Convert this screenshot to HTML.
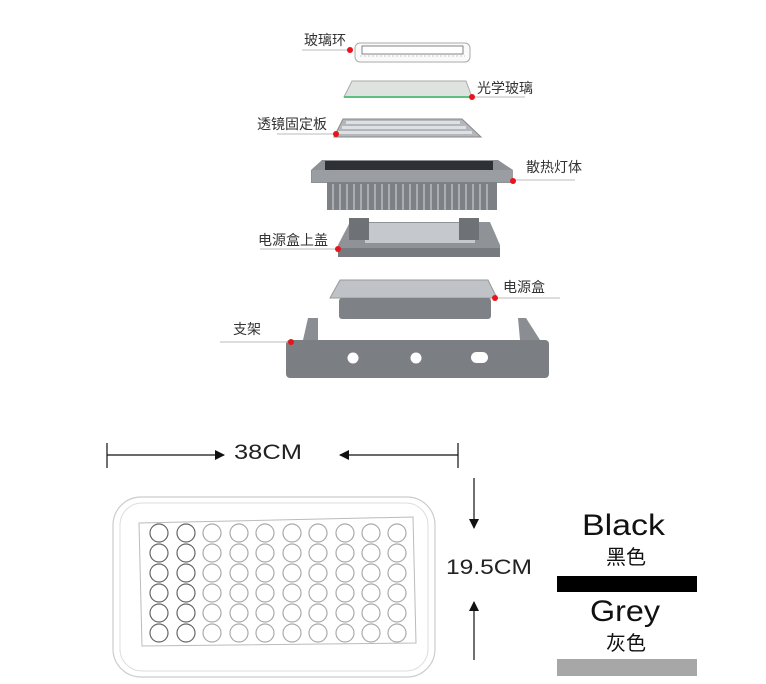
<!DOCTYPE html>
<html><head><meta charset="utf-8"><style>
html,body{margin:0;padding:0;background:#fff;}
svg{display:block;}
text{font-family:"Liberation Sans","Noto Sans CJK SC",sans-serif;}
</style></head><body>
<svg width="766" height="684" viewBox="0 0 766 684" xmlns="http://www.w3.org/2000/svg">
<defs>
<marker id="ah" markerWidth="10" markerHeight="10" refX="9" refY="5" orient="auto" markerUnits="userSpaceOnUse"><path d="M0,0 L10,5 L0,10 z" fill="#111"/></marker>
</defs>
<!-- glass ring -->
<rect x="355" y="43" width="115" height="19" rx="5" fill="#fafafa" stroke="#aaa" stroke-width="1"/>
<rect x="362" y="46" width="101" height="8" fill="#fff" stroke="#666" stroke-width="0.8"/>
<line x1="360" y1="56" x2="465" y2="56" stroke="#ccc" stroke-dasharray="2,2"/>
<!-- glass -->
<path d="M352,81 L466,81 L472,97 L344,97 Z" fill="#dfe3e0" stroke="#aaa"/>
<line x1="344" y1="97" x2="472" y2="97" stroke="#5fbf7f" stroke-width="2"/>
<!-- lens plate -->
<path d="M343,119 L462,119 L481,137 L334,137 Z" fill="#b3b7bc" stroke="#888"/>
<g fill="#e9ecef" opacity=".8">
<rect x="346" y="121" width="114" height="3"/>
<rect x="342" y="126" width="124" height="3"/>
<rect x="338" y="131" width="134" height="3"/>
</g>
<!-- heat sink -->
<path d="M322,160 L498,160 L513,170 L513,183 L311,183 L311,170 Z" fill="#8d9196"/>
<rect x="325" y="161" width="168" height="12" fill="#2e3033"/>
<rect x="312" y="170" width="201" height="12" fill="#9a9ea3"/>
<rect x="327" y="182" width="170" height="28" fill="#7d8186"/>
<g stroke="#c9ccd0" stroke-width="1.2">
<line x1="333" y1="184" x2="333" y2="210"/><line x1="340" y1="184" x2="340" y2="210"/><line x1="347" y1="184" x2="347" y2="210"/><line x1="354" y1="184" x2="354" y2="210"/><line x1="361" y1="184" x2="361" y2="210"/><line x1="368" y1="184" x2="368" y2="210"/><line x1="375" y1="184" x2="375" y2="210"/><line x1="382" y1="184" x2="382" y2="210"/><line x1="389" y1="184" x2="389" y2="210"/><line x1="396" y1="184" x2="396" y2="210"/><line x1="403" y1="184" x2="403" y2="210"/><line x1="410" y1="184" x2="410" y2="210"/><line x1="417" y1="184" x2="417" y2="210"/><line x1="424" y1="184" x2="424" y2="210"/><line x1="431" y1="184" x2="431" y2="210"/><line x1="438" y1="184" x2="438" y2="210"/><line x1="445" y1="184" x2="445" y2="210"/><line x1="452" y1="184" x2="452" y2="210"/><line x1="459" y1="184" x2="459" y2="210"/><line x1="466" y1="184" x2="466" y2="210"/><line x1="473" y1="184" x2="473" y2="210"/><line x1="480" y1="184" x2="480" y2="210"/><line x1="487" y1="184" x2="487" y2="210"/>
</g>
<!-- power box lid -->
<path d="M350,222 L490,222 L500,245 L500,257 L338,257 L338,245 Z" fill="#8f9398"/>
<rect x="365" y="223" width="110" height="20" fill="#c5c8cc"/>
<rect x="349" y="218" width="20" height="22" fill="#6e7277"/>
<rect x="459" y="218" width="20" height="22" fill="#6e7277"/>
<rect x="338" y="248" width="162" height="9" fill="#777b80"/>
<!-- power box -->
<path d="M340,280 L488,280 L497,298 L330,298 Z" fill="#bfc2c6" stroke="#999"/>
<rect x="339" y="298" width="152" height="21" rx="3" fill="#7e8287"/>
<!-- bracket -->
<path d="M308,318 L318,318 L318,340 L303,340 Z" fill="#8a8e93"/>
<path d="M518,318 L526,318 L540,340 L520,340 Z" fill="#8a8e93"/>
<rect x="286" y="340" width="263" height="38" rx="4" fill="#7b7f84"/>
<circle cx="353" cy="358" r="5.5" fill="#fff"/>
<circle cx="416" cy="358" r="5.5" fill="#fff"/>
<rect x="471" y="352" width="17" height="11" rx="5.5" fill="#fff"/>
<!-- leader lines -->
<g stroke="#bbb" stroke-width="1">
<line x1="302" y1="50" x2="352" y2="50"/>
<line x1="472" y1="97" x2="525" y2="97"/>
<line x1="277" y1="134" x2="336" y2="134"/>
<line x1="513" y1="180" x2="575" y2="180"/>
<line x1="260" y1="249" x2="338" y2="249"/>
<line x1="497" y1="298" x2="560" y2="298"/>
<line x1="220" y1="342" x2="290" y2="342"/>
</g>
<g fill="#e8131b">
<circle cx="350" cy="50" r="3"/><circle cx="472" cy="97" r="3"/><circle cx="336" cy="134" r="3"/><circle cx="513" cy="181" r="3"/><circle cx="338" cy="249" r="3"/><circle cx="495" cy="298" r="3"/><circle cx="291" cy="342" r="3"/>
</g>
<g font-size="14" fill="#333">
<text x="304" y="45">玻璃环</text>
<text x="477" y="93">光学玻璃</text>
<text x="257" y="129">透镜固定板</text>
<text x="526" y="172">散热灯体</text>
<text x="258" y="245">电源盒上盖</text>
<text x="503" y="292">电源盒</text>
<text x="233" y="334">支架</text>
</g>
<!-- dimensions -->
<g stroke="#111" stroke-width="1.2">
<line x1="107" y1="443" x2="107" y2="468"/>
<line x1="458" y1="443" x2="458" y2="468"/>
<line x1="107" y1="455" x2="224" y2="455" marker-end="url(#ah)"/>
<line x1="458" y1="455" x2="340" y2="455" marker-end="url(#ah)"/>
<line x1="474" y1="478" x2="474" y2="528" marker-end="url(#ah)"/>
<line x1="474" y1="660" x2="474" y2="602" marker-end="url(#ah)"/>
</g>
<text x="234" y="459" font-size="21" fill="#222" textLength="68" lengthAdjust="spacingAndGlyphs">38CM</text>
<text x="446" y="574" font-size="21" fill="#222" textLength="86" lengthAdjust="spacingAndGlyphs">19.5CM</text>
<!-- top view -->
<rect x="113" y="497" width="322" height="180" rx="28" fill="#fff" stroke="#ccc" stroke-width="1.2"/>
<rect x="120" y="503" width="308" height="168" rx="22" fill="none" stroke="#ddd"/>
<path d="M139,523 L413,517 L416,643 L142,646 Z" fill="none" stroke="#bbb"/>
<g fill="none" stroke-width="1.2">
<g stroke="#666">
<circle cx="159" cy="533" r="9"/><circle cx="159" cy="553" r="9"/><circle cx="159" cy="573" r="9"/><circle cx="159" cy="593" r="9"/><circle cx="159" cy="613" r="9"/><circle cx="159" cy="633" r="9"/>
<circle cx="186" cy="533" r="9"/><circle cx="186" cy="553" r="9"/><circle cx="186" cy="573" r="9"/><circle cx="186" cy="593" r="9"/><circle cx="186" cy="613" r="9"/><circle cx="186" cy="633" r="9"/>
</g>
<g stroke="#aaa">
<circle cx="212" cy="533" r="9"/><circle cx="212" cy="553" r="9"/><circle cx="212" cy="573" r="9"/><circle cx="212" cy="593" r="9"/><circle cx="212" cy="613" r="9"/><circle cx="212" cy="633" r="9"/>
<circle cx="239" cy="533" r="9"/><circle cx="239" cy="553" r="9"/><circle cx="239" cy="573" r="9"/><circle cx="239" cy="593" r="9"/><circle cx="239" cy="613" r="9"/><circle cx="239" cy="633" r="9"/>
<circle cx="265" cy="533" r="9"/><circle cx="265" cy="553" r="9"/><circle cx="265" cy="573" r="9"/><circle cx="265" cy="593" r="9"/><circle cx="265" cy="613" r="9"/><circle cx="265" cy="633" r="9"/>
<circle cx="292" cy="533" r="9"/><circle cx="292" cy="553" r="9"/><circle cx="292" cy="573" r="9"/><circle cx="292" cy="593" r="9"/><circle cx="292" cy="613" r="9"/><circle cx="292" cy="633" r="9"/>
<circle cx="318" cy="533" r="9"/><circle cx="318" cy="553" r="9"/><circle cx="318" cy="573" r="9"/><circle cx="318" cy="593" r="9"/><circle cx="318" cy="613" r="9"/><circle cx="318" cy="633" r="9"/>
<circle cx="345" cy="533" r="9"/><circle cx="345" cy="553" r="9"/><circle cx="345" cy="573" r="9"/><circle cx="345" cy="593" r="9"/><circle cx="345" cy="613" r="9"/><circle cx="345" cy="633" r="9"/>
<circle cx="371" cy="533" r="9"/><circle cx="371" cy="553" r="9"/><circle cx="371" cy="573" r="9"/><circle cx="371" cy="593" r="9"/><circle cx="371" cy="613" r="9"/><circle cx="371" cy="633" r="9"/>
<circle cx="397" cy="533" r="9"/><circle cx="397" cy="553" r="9"/><circle cx="397" cy="573" r="9"/><circle cx="397" cy="593" r="9"/><circle cx="397" cy="613" r="9"/><circle cx="397" cy="633" r="9"/>
</g>
</g>
<!-- colors -->
<text x="582" y="535" font-size="30" fill="#111" textLength="83" lengthAdjust="spacingAndGlyphs">Black</text>
<text x="606" y="564" font-size="20" fill="#111" font-family="Noto Sans CJK SC">黑色</text>
<rect x="557" y="576" width="140" height="16" fill="#000"/>
<text x="590" y="621" font-size="30" fill="#111" textLength="70" lengthAdjust="spacingAndGlyphs">Grey</text>
<text x="606" y="650" font-size="20" fill="#111" font-family="Noto Sans CJK SC">灰色</text>
<rect x="557" y="659" width="140" height="17" fill="#a7a7a7"/>
</svg>
</body></html>
